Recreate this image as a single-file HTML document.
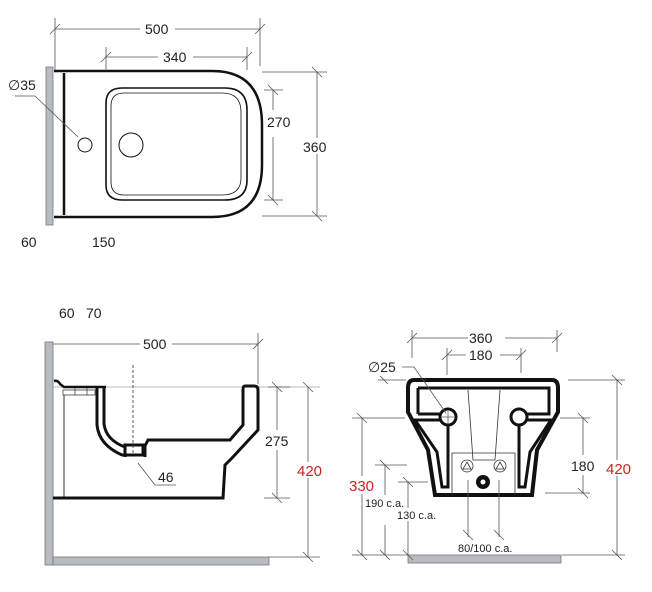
<!DOCTYPE html>
<html><head><meta charset="utf-8"><style>
html,body{margin:0;padding:0;background:#fff;}
svg{display:block;font-family:"Liberation Sans",Arial,sans-serif;}
.t{font-size:14px;fill:#222;}
.r{font-size:15px;fill:#d0231f;}
.d{stroke:#555;stroke-width:0.8;fill:none;}
.k{stroke:#111;fill:none;}
</style></head><body>
<svg width="652" height="592" viewBox="0 0 652 592" xmlns="http://www.w3.org/2000/svg">
<!-- TOP VIEW -->
<rect x="46" y="67" width="7" height="158" fill="#b8bcc2" stroke="#777" stroke-width="0.8"/>
<path class="k" stroke-width="2.5" d="M54,71 H212 Q262,71 262,125 V165 Q262,217 212,217 H54"/>
<line class="k" stroke-width="2.5" x1="64" y1="73" x2="64" y2="215"/>
<path class="k" stroke-width="1.6" d="M122,88 H225 Q247,88 247,110 V180 Q247,200 225,200 H122 Q106,200 106,185 V103 Q106,88 122,88 Z"/>
<path class="k" stroke-width="0.8" d="M124,93 H222 Q241,93 241,112 V178 Q241,195 222,195 H124 Q111,195 111,182 V106 Q111,93 124,93 Z"/>
<circle class="k" stroke-width="1" cx="85" cy="145" r="7"/>
<circle class="k" stroke-width="1" cx="131" cy="145" r="12"/>
<polyline class="d" stroke="#333" points="15,96 35,96 78,137"/>
<text class="t" x="8" y="90">∅35</text>
<line class="d" x1="55" y1="29" x2="140" y2="29"/><line class="d" x1="175" y1="29" x2="260" y2="29"/>
<line class="d" x1="55" y1="18" x2="55" y2="70"/><line class="d" x1="260" y1="18" x2="260" y2="66"/>
<line class="d" x1="50" y1="34" x2="60" y2="24"/><line class="d" x1="255" y1="34" x2="265" y2="24"/>
<text class="t" x="145" y="34">500</text>
<line class="d" x1="106" y1="57" x2="158" y2="57"/><line class="d" x1="193" y1="57" x2="247" y2="57"/>
<line class="d" x1="106" y1="47" x2="106" y2="71"/><line class="d" x1="247" y1="47" x2="247" y2="70"/>
<line class="d" x1="101" y1="62" x2="111" y2="52"/><line class="d" x1="242" y1="62" x2="252" y2="52"/>
<text class="t" x="163" y="62">340</text>
<line class="d" x1="273" y1="90" x2="273" y2="110"/><line class="d" x1="273" y1="137" x2="273" y2="200"/>
<line class="d" x1="264" y1="90" x2="283" y2="90"/><line class="d" x1="264" y1="200" x2="283" y2="200"/>
<line class="d" x1="268" y1="85" x2="278" y2="95"/><line class="d" x1="268" y1="195" x2="278" y2="205"/>
<text class="t" x="267" y="127">270</text>
<line class="d" x1="317" y1="72" x2="317" y2="216"/>
<line class="d" x1="262" y1="72" x2="327" y2="72"/><line class="d" x1="262" y1="216" x2="327" y2="216"/>
<line class="d" x1="312" y1="67" x2="322" y2="77"/><line class="d" x1="312" y1="211" x2="322" y2="221"/>
<rect x="300" y="138" width="30" height="16" fill="#fff"/>
<text class="t" x="303" y="152">360</text>
<text class="t" x="21" y="247">60</text>
<text class="t" x="92" y="247">150</text>

<!-- SIDE VIEW -->
<rect x="45" y="342" width="8" height="223" fill="#b8bcc2" stroke="#777" stroke-width="0.8"/>
<rect x="53" y="557" width="216" height="8" fill="#b8bcc2" stroke="#777" stroke-width="0.8"/>
<line class="d" x1="53" y1="344" x2="140" y2="344"/><line class="d" x1="172" y1="344" x2="258" y2="344"/>
<line class="d" x1="258" y1="333" x2="258" y2="384"/><line class="d" x1="253" y1="349" x2="263" y2="339"/>
<text class="t" x="143" y="349">500</text>
<line x1="53" y1="387" x2="320" y2="387" stroke="#777" stroke-width="0.6"/>
<path class="k" stroke-width="2.5" d="M54,381 Q58,380 60,384 L64,387 H106"/>
<path d="M63,390 H95 V395 H63 Z" fill="#fff" stroke="#333" stroke-width="0.7"/>
<line x1="75" y1="388" x2="75" y2="395" stroke="#333" stroke-width="0.7"/><line x1="87" y1="388" x2="87" y2="395" stroke="#333" stroke-width="0.7"/>
<line x1="64" y1="395" x2="64" y2="498" stroke="#333" stroke-width="1"/>
<path class="k" stroke-width="3" d="M53,498 H223 L225,465 L232,458 L258,430 V390 Q258,386 254,386 H245 Q243,386 243,390 V425 L230,440 H148 L145,446 V457"/>
<path class="k" stroke-width="3" d="M97,388 V425 Q99,445 122,455 H143 V445 H125 V457"/>
<path class="k" stroke-width="3" d="M104,388 V424 Q106,440 125,447"/>
<line class="k" stroke-width="2" x1="104" y1="388" x2="104" y2="395"/>
<line x1="133" y1="365" x2="133" y2="455" stroke="#333" stroke-width="0.8" stroke-dasharray="3,2"/>
<polyline class="d" stroke="#333" points="138,463 155,485 176,485"/>
<text class="t" x="158" y="482">46</text>
<line class="d" x1="277" y1="387" x2="277" y2="430"/><line class="d" x1="277" y1="450" x2="277" y2="498"/>
<line class="d" x1="268" y1="387" x2="290" y2="387"/><line class="d" x1="264" y1="498" x2="290" y2="498"/>
<line class="d" x1="272" y1="382" x2="282" y2="392"/><line class="d" x1="272" y1="493" x2="282" y2="503"/>
<text class="t" x="265" y="446">275</text>
<line class="d" x1="308" y1="387" x2="308" y2="557"/>
<line class="d" x1="269" y1="557" x2="320" y2="557"/>
<line class="d" x1="303" y1="382" x2="313" y2="392"/><line class="d" x1="303" y1="552" x2="313" y2="562"/>
<rect x="296" y="462" width="28" height="16" fill="#fff"/>
<text class="r" x="297" y="476">420</text>
<text class="t" x="59" y="318">60</text>
<text class="t" x="86" y="318">70</text>

<!-- FRONT VIEW -->
<rect x="408" y="555" width="153" height="8" fill="#b8bcc2" stroke="#777" stroke-width="0.8"/>
<path class="k" stroke-width="4" d="M414,380 H552 Q558,380 558,388 V412 L537,450 L532,495 H435 L428,450 L408,412 V388 Q408,380 414,380 Z"/>
<path class="k" stroke-width="3" d="M418,388 H549 V414 H527 M440,414 H418 Z"/>
<path class="k" stroke-width="3" d="M418,388 V414"/>
<path class="k" stroke-width="3" d="M415,420 L437,452 L442,487 H448 V424 Q445,420 441,420 Z"/>
<path class="k" stroke-width="3" d="M551,420 L530,452 L525,487 H519 V424 Q522,420 526,420 Z"/>
<circle cx="448" cy="417" r="8" fill="#fff" stroke="#111" stroke-width="3"/>
<circle cx="519" cy="417" r="8" fill="#fff" stroke="#111" stroke-width="3"/>
<line x1="442" y1="417" x2="454" y2="417" stroke="#333" stroke-width="0.6"/><line x1="448" y1="411" x2="448" y2="423" stroke="#333" stroke-width="0.6"/>
<path d="M468,390 L473,460 H495 L500,390" fill="none" stroke="#333" stroke-width="0.8"/>
<path d="M452,495 V453 H515 V495" fill="none" stroke="#333" stroke-width="0.8"/>
<circle cx="467" cy="466" r="6" fill="#fff" stroke="#333" stroke-width="0.8"/>
<circle cx="500" cy="466" r="6" fill="#fff" stroke="#333" stroke-width="0.8"/>
<path d="M467,462 L471,469 H463 Z M500,462 L504,469 H496 Z" fill="none" stroke="#333" stroke-width="0.8"/>
<circle cx="483" cy="482" r="7" fill="#111"/><circle cx="483" cy="482" r="2.5" fill="#fff"/>
<line class="d" x1="412" y1="338" x2="468" y2="338"/><line class="d" x1="505" y1="338" x2="557" y2="338"/>
<line class="d" x1="412" y1="330" x2="412" y2="358"/><line class="d" x1="557" y1="330" x2="557" y2="352"/>
<line class="d" x1="407" y1="343" x2="417" y2="333"/><line class="d" x1="552" y1="343" x2="562" y2="333"/>
<text class="t" x="469" y="343">360</text>
<line class="d" x1="447" y1="355" x2="466" y2="355"/><line class="d" x1="500" y1="355" x2="521" y2="355"/>
<line class="d" x1="447" y1="348" x2="447" y2="375"/><line class="d" x1="521" y1="348" x2="521" y2="373"/>
<line class="d" x1="442" y1="360" x2="452" y2="350"/><line class="d" x1="516" y1="360" x2="526" y2="350"/>
<text class="t" x="469" y="360">180</text>
<text class="t" x="368" y="372">∅25</text>
<polyline class="d" stroke="#333" points="402,367 414,367 446,413"/>
<line class="d" x1="378" y1="380" x2="406" y2="380"/><line class="d" x1="380" y1="376" x2="388" y2="384"/>
<line class="d" x1="617" y1="380" x2="617" y2="555"/>
<line class="d" x1="568" y1="380" x2="625" y2="380"/><line class="d" x1="562" y1="555" x2="625" y2="555"/>
<line class="d" x1="612" y1="375" x2="622" y2="385"/><line class="d" x1="612" y1="550" x2="622" y2="560"/>
<rect x="605" y="460" width="28" height="16" fill="#fff"/>
<text class="r" x="606" y="474">420</text>
<line class="d" x1="583" y1="418" x2="583" y2="455"/><line class="d" x1="583" y1="475" x2="583" y2="493"/>
<line class="d" x1="560" y1="418" x2="590" y2="418"/><line class="d" x1="545" y1="493" x2="590" y2="493"/>
<line class="d" x1="578" y1="413" x2="588" y2="423"/><line class="d" x1="578" y1="488" x2="588" y2="498"/>
<text class="t" x="571" y="471">180</text>
<line class="d" x1="362" y1="418" x2="362" y2="476"/><line class="d" x1="362" y1="494" x2="362" y2="555"/>
<line class="d" x1="352" y1="418" x2="405" y2="418"/><line class="d" x1="352" y1="555" x2="408" y2="555"/>
<line class="d" x1="357" y1="413" x2="367" y2="423"/><line class="d" x1="357" y1="550" x2="367" y2="560"/>
<text class="r" x="349" y="491">330</text>
<line class="d" x1="385" y1="465" x2="385" y2="495"/><line class="d" x1="385" y1="525" x2="385" y2="555"/>
<line class="d" x1="375" y1="465" x2="407" y2="465"/>
<line class="d" x1="380" y1="460" x2="390" y2="470"/><line class="d" x1="380" y1="550" x2="390" y2="560"/>
<text class="t" x="365" y="507" style="font-size:11px">190 c.a.</text>
<line class="d" x1="408" y1="482" x2="408" y2="508"/><line class="d" x1="408" y1="521" x2="408" y2="555"/>
<line class="d" x1="398" y1="482" x2="428" y2="482"/>
<line class="d" x1="403" y1="477" x2="413" y2="487"/><line class="d" x1="403" y1="550" x2="413" y2="560"/>
<text class="t" x="397" y="519" style="font-size:11px">130 c.a.</text>
<line class="d" x1="468" y1="480" x2="468" y2="537"/><line class="d" x1="499" y1="480" x2="499" y2="537"/>
<line class="d" x1="463" y1="530" x2="473" y2="540"/><line class="d" x1="494" y1="530" x2="504" y2="540"/>
<text class="t" x="458" y="552" style="font-size:11px">80/100 c.a.</text>
</svg>
</body></html>
